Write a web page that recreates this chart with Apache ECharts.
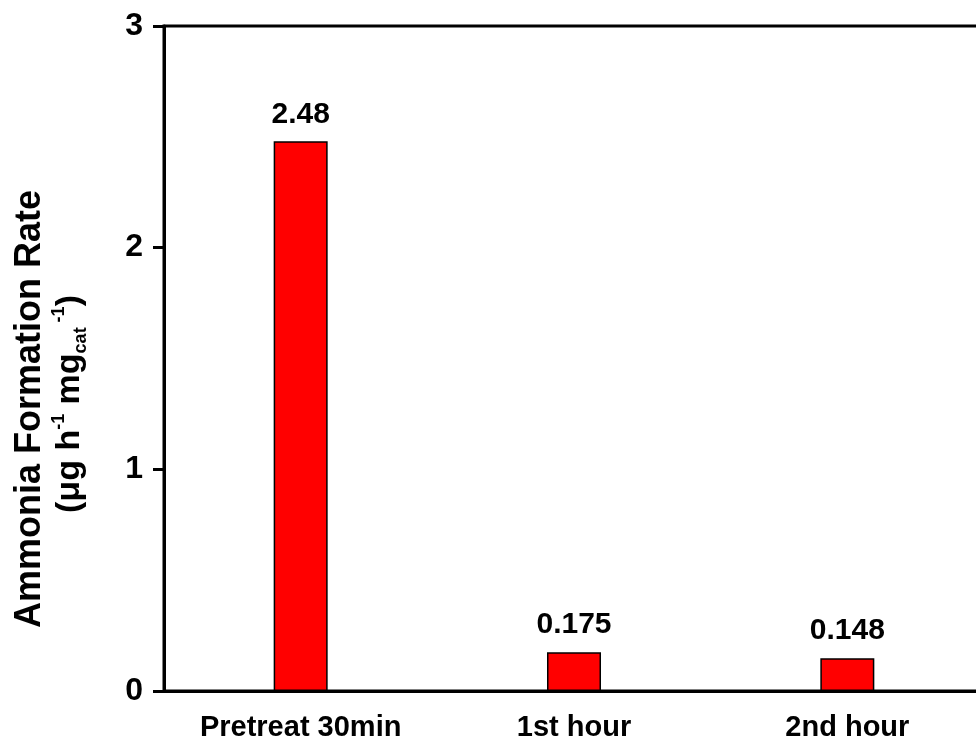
<!DOCTYPE html>
<html>
<head>
<meta charset="utf-8">
<script src="https://cdn.jsdelivr.net/npm/echarts@6/dist/echarts.min.js"></script>
<style>
  html, body { margin: 0; padding: 0; background: #fff; }
  #chart { width: 976px; height: 740px; }
</style>
</head>
<body>
<div id="chart"></div>
<script>
// Ammonia formation rate per stage
const categories = ['Pretreat 30min', '1st hour', '2nd hour'];
const rates = [2.48, 0.175, 0.148];
const rateLabels = ['2.48', '0.175', '0.148'];
const yTicks = { min: 0, max: 3, interval: 1 };

const FONT = '"Liberation Sans", Arial, Helvetica, sans-serif';
const GRID = { left: 164, top: 26, right: -8, bottom: 49 };
const plotHeight = 740 - GRID.top - GRID.bottom;

const chart = echarts.init(document.getElementById('chart'));

chart.setOption({
  animation: false,
  backgroundColor: '#fff',
  grid: Object.assign({
    show: true,
    borderColor: '#000',
    borderWidth: 3,
    backgroundColor: 'transparent',
    containLabel: false,
    outerBoundsMode: 'none'
  }, GRID),
  xAxis: [
    {
      type: 'category',
      data: categories,
      position: 'bottom',
      axisLine: { lineStyle: { color: '#000', width: 3 } },
      axisTick: { alignWithLabel: true, length: 11, lineStyle: { color: '#000', width: 3 } },
      axisLabel: { color: '#000', fontFamily: FONT, fontWeight: 'bold', fontSize: 29, margin: 22 },
      splitLine: { show: false }
    },
    {
      // short ticks on category boundaries, drawn along the bottom edge
      type: 'category',
      data: categories,
      position: 'top',
      offset: -plotHeight,
      axisLine: { show: false },
      axisTick: { inside: true, alignWithLabel: false, length: 5, lineStyle: { color: '#000', width: 3 } },
      axisLabel: { show: false },
      splitLine: { show: false }
    }
  ],
  yAxis: {
    type: 'value',
    min: yTicks.min,
    max: yTicks.max,
    interval: yTicks.interval,
    axisLine: { show: true, lineStyle: { color: '#000', width: 3 } },
    axisTick: { show: true, length: 11, lineStyle: { color: '#000', width: 3 } },
    axisLabel: { color: '#000', fontFamily: FONT, fontWeight: 'bold', fontSize: 32, margin: 21 },
    splitLine: { show: false }
  },
  series: [{
    type: 'bar',
    xAxisIndex: 0,
    data: rates,
    barWidth: 54,
    itemStyle: { color: '#ff0000', borderColor: '#000', borderWidth: 1.5 },
    label: {
      show: true,
      position: 'top',
      distance: 12,
      color: '#000',
      fontFamily: FONT,
      fontWeight: 'bold',
      fontSize: 30,
      formatter: p => rateLabels[p.dataIndex]
    }
  }],
  graphic: [
    {
      type: 'text',
      x: 30, y: 409,
      rotation: Math.PI / 2,
      style: {
        text: 'Ammonia Formation Rate',
        fill: '#000',
        font: 'bold 36px ' + FONT,
        align: 'center',
        verticalAlign: 'middle'
      }
    },
    {
      type: 'text',
      x: 70, y: 404,
      rotation: Math.PI / 2,
      style: {
        text: '{b|(μg h}{sup|-1}{b| mg}{sub|cat}{sup| -1}{b|)}',
        fill: '#000',
        align: 'center',
        verticalAlign: 'middle',
        rich: {
          b: { fontFamily: FONT, fontWeight: 'bold', fontSize: 34, fill: '#000', lineHeight: 40 },
          sup: { fontFamily: FONT, fontWeight: 'bold', fontSize: 18, fill: '#000', verticalAlign: 'top' },
          sub: { fontFamily: FONT, fontWeight: 'bold', fontSize: 18, fill: '#000', verticalAlign: 'bottom' }
        }
      }
    }
  ]
});
</script>
</body>
</html>
